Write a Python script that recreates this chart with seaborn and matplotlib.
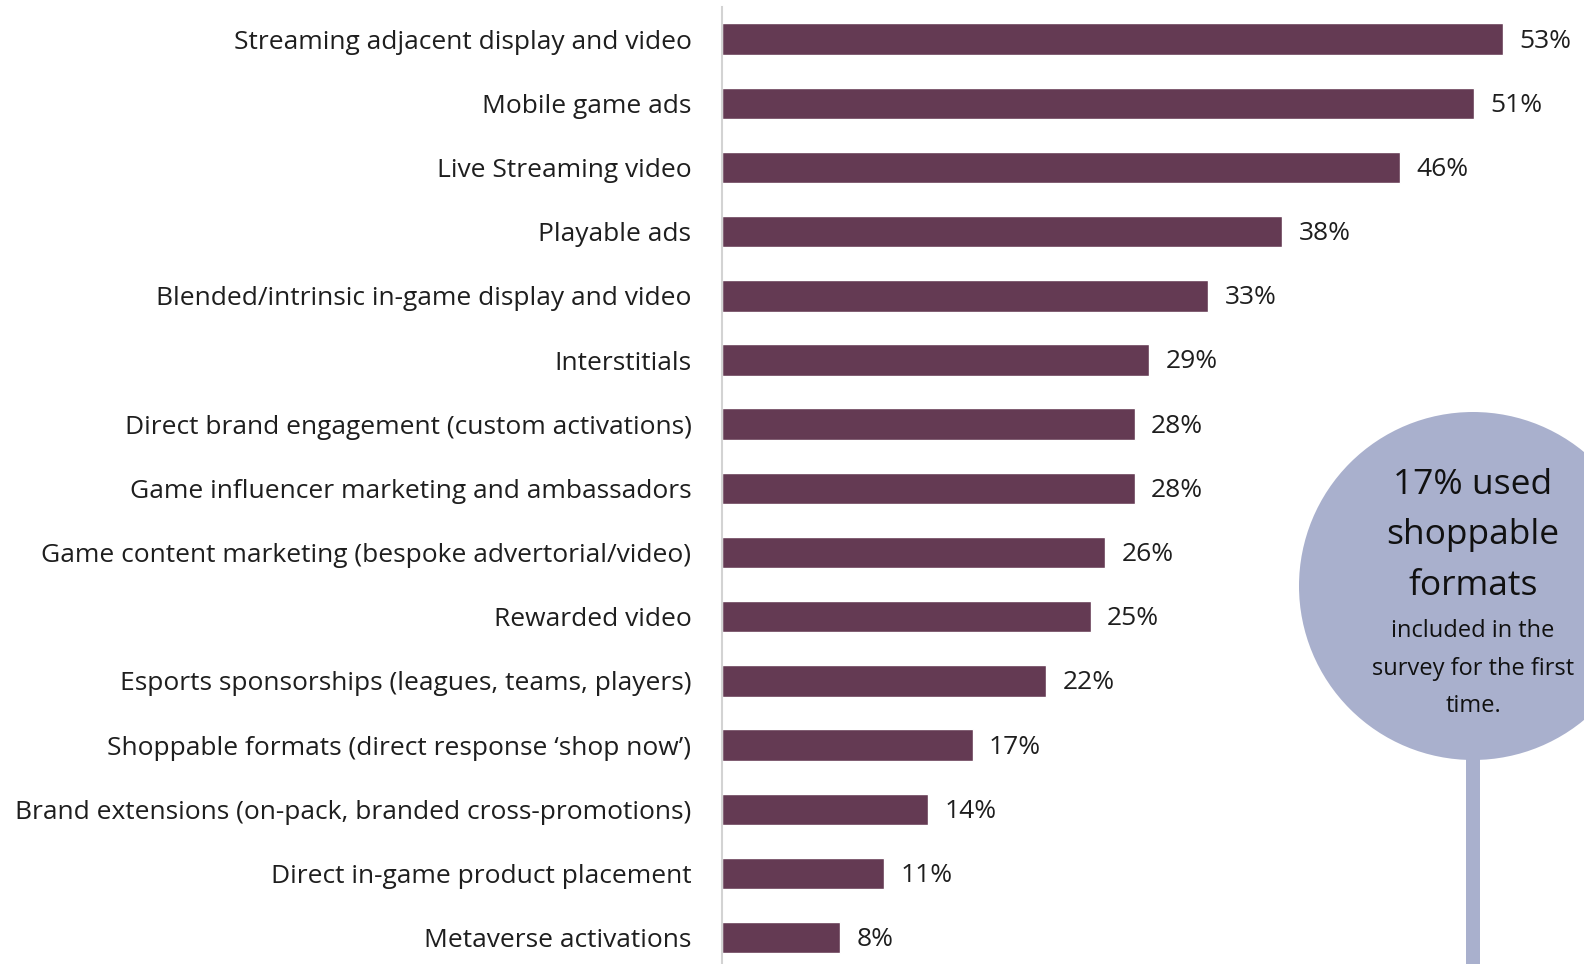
import matplotlib
matplotlib.use("Agg")
import matplotlib.pyplot as plt
from matplotlib.patches import Circle, Rectangle
import seaborn as sns
import pandas as pd

categories = [
    "Streaming adjacent display and video",
    "Mobile game ads",
    "Live Streaming video",
    "Playable ads",
    "Blended/intrinsic in-game display and video",
    "Interstitials",
    "Direct brand engagement (custom activations)",
    "Game influencer marketing and ambassadors",
    "Game content marketing (bespoke advertorial/video)",
    "Rewarded video",
    "Esports sponsorships (leagues, teams, players)",
    "Shoppable formats (direct response \u2018shop now\u2019)",
    "Brand extensions (on-pack, branded cross-promotions)",
    "Direct in-game product placement",
    "Metaverse activations",
]
values = [53, 51, 46, 38, 33, 29, 28, 28, 26, 25, 22, 17, 14, 11, 8]

callout_big = ["17% used", "shoppable", "formats"]
callout_small = ["included in the", "survey for the first", "time."]

BAR = "#643A53"
BUBBLE = "#A9B0CD"
TEXT = "#1E1E1E"

sns.set_theme(style="white")
plt.rcParams["font.family"] = ["Open Sans", "DejaVu Sans"]

df = pd.DataFrame({"format": categories, "share": values})

fig = plt.figure(figsize=(15.84, 9.64), dpi=100)
ax = fig.add_axes([722 / 1584, 0.0, 1 - 722 / 1584, 1 - 7 / 964])

sns.barplot(data=df, y="format", x="share", orient="h", color=BAR,
            saturation=1, width=0.49, ax=ax)

ax.set_xlim(0, (1584 - 722) / 14.74)
ax.set_ylim(14.41, -0.5)
ax.set_xlabel("")
ax.set_ylabel("")
ax.set_xticks([])
ax.tick_params(axis="y", length=0, pad=22, labelsize=19, labelcolor=TEXT)
for s in ["top", "right", "bottom"]:
    ax.spines[s].set_visible(False)
ax.spines["left"].set_color("#D3D3D3")
ax.spines["left"].set_linewidth(1.5)

for i, v in enumerate(values):
    ax.text(v + 1.1, i + 0.03, f"{v}%", va="center", ha="left",
            fontsize=19, color=TEXT)

# callout bubble with stem
cx, cy, r = 14.73, (964 - 586) / 100, 1.74
stem = Rectangle((cx - 0.07, 0), 0.14, cy - r + 0.1, transform=fig.dpi_scale_trans,
                 facecolor=BUBBLE, edgecolor="none", clip_on=False, zorder=5)
bubble = Circle((cx, cy), r, transform=fig.dpi_scale_trans,
                facecolor=BUBBLE, edgecolor="none", clip_on=False, zorder=6)
fig.add_artist(stem)
fig.add_artist(bubble)

big_y = [485, 535, 586]
small_y = [631, 669, 706]
for t, y in zip(callout_big, big_y):
    fig.text(cx / 15.84, 1 - y / 964, t, ha="center", va="center",
             fontsize=25.5, color="#111111", zorder=7)
for t, y in zip(callout_small, small_y):
    fig.text(cx / 15.84, 1 - y / 964, t, ha="center", va="center",
             fontsize=17, color="#111111", zorder=7)

fig.savefig("out.png", dpi=100)
